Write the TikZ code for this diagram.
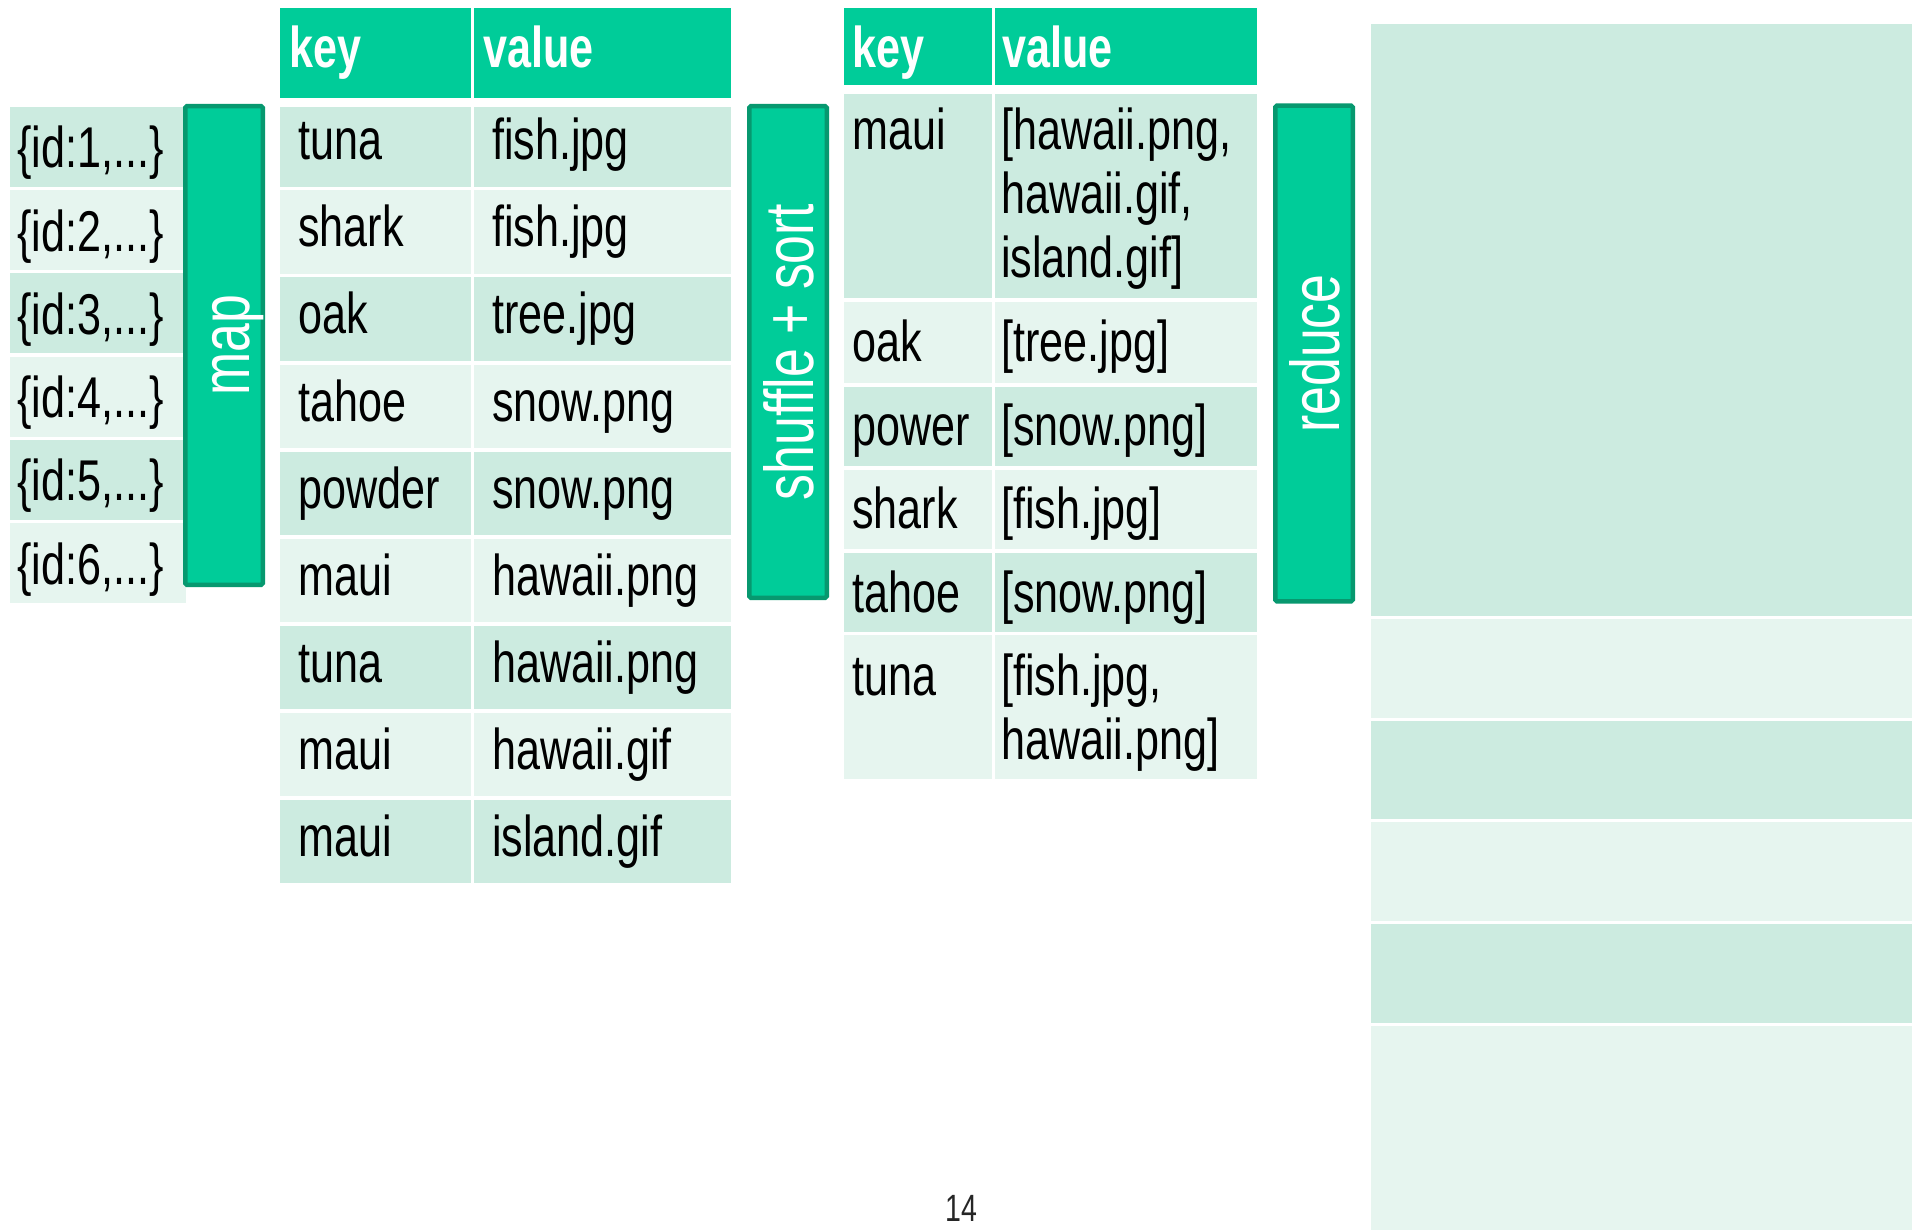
\documentclass[tikz,border=0pt]{standalone}
\usepackage{fontspec}
\setmainfont{Liberation Sans}[FakeStretch=0.75]
\definecolor{accent}{HTML}{00CC99}
\definecolor{stageedge}{HTML}{07986F}
\definecolor{rowdark}{HTML}{CCEBE0}
\definecolor{rowlight}{HTML}{E6F5EF}
\tikzset{
  celltext/.style={anchor=base west, inner sep=0pt, text=black,
    font=\fontsize{57.5}{64}\selectfont},
  headtext/.style={anchor=base west, inner sep=0pt, text=white,
    font=\bfseries\fontsize{57.5}{64}\selectfont},
  stagebox/.style={draw=stageedge, fill=accent, line width=4.5pt,
    rounded corners=1.5pt, inner sep=0pt, minimum width=77.5pt},
  stagelabel/.style={anchor=base, rotate=90, inner sep=0pt, text=white,
    font=\fontsize{69}{72}\selectfont},
  pagenum/.style={anchor=base, inner sep=0pt, text=black!85,
    font=\fontsize{38}{40}\selectfont}
}
\begin{document}
\begin{tikzpicture}[x=1pt,y=-1pt]
\fill[white] (0,0) rectangle (1916,1230);
\useasboundingbox (0,0) rectangle (1916,1230);

% input records
\foreach \k in {1,...,6}{
  \ifodd\k \def\shade{rowdark}\else\def\shade{rowlight}\fi
  \pgfmathsetmacro\top{107+83.2*(\k-1)}
  \fill[\shade] (10,\top) rectangle (186,\top+80);
  \node[celltext] (rec\k) at (17,\top+61) {\{id:\k,...\}};
}

% map stage
\node[stagebox, minimum height=478.5pt] (map) at (224,345.5) {};
\node[stagelabel] (maplabel) at ([xshift=25pt]map.center) {map};

% intermediate key/value pairs
\fill[accent] (280,8) rectangle (471,98);
\fill[accent] (474,8) rectangle (731,98);
\node[headtext] (keyA) at (289,68) {key};
\node[headtext] (valA) at (483,68) {value};
\foreach \k/\key/\val in {1/tuna/fish.jpg, 2/shark/fish.jpg, 3/oak/tree.jpg,
    4/tahoe/snow.png, 5/powder/snow.png, 6/maui/hawaii.png,
    7/tuna/hawaii.png, 8/maui/hawaii.gif, 9/maui/island.gif}{
  \ifodd\k \def\shade{rowdark}\else\def\shade{rowlight}\fi
  \pgfmathsetmacro\top{103.5+87*(\k-1)+3.5*(\k==1)}
  \pgfmathsetmacro\bot{187+87*(\k-1)}
  \fill[\shade] (280,\top) rectangle (471,\bot);
  \fill[\shade] (474,\top) rectangle (731,\bot);
  \node[celltext] (pairkey\k) at (298,\bot-27) {\key};
  \node[celltext] (pairval\k) at (492,\bot-27) {\val};
}

% shuffle + sort stage
\node[stagebox, minimum height=491.5pt] (shuffle) at (788,352) {};
\node[stagelabel] (shufflelabel) at ([xshift=25pt]shuffle.center) {shuffle + sort};

% grouped key/value lists
\fill[accent] (844,8) rectangle (992,85);
\fill[accent] (995,8) rectangle (1257,85);
\node[headtext] (keyB) at (852,68) {key};
\node[headtext] (valB) at (1002,68) {value};
\foreach \k/\top/\bot/\base/\shade/\key/\val in {
    1/94/298.5/150/rowdark/maui/{\vtop{\hbox{[hawaii.png,}\hbox{hawaii.gif,}\hbox{island.gif]}}},
    2/302.5/383/361/rowlight/oak/{[tree.jpg]},
    3/386.5/466/445/rowdark/power/{[snow.png]},
    4/469.5/549/528/rowlight/shark/{[fish.jpg]},
    5/552.5/632/612/rowdark/tahoe/{[snow.png]},
    6/635/779/695/rowlight/tuna/{\vtop{\hbox{[fish.jpg,}\hbox{hawaii.png]}}}}{
  \fill[\shade] (844,\top) rectangle (992,\bot);
  \fill[\shade] (995,\top) rectangle (1257,\bot);
  \node[celltext] (groupkey\k) at (852,\base) {\key};
  \node[celltext] (groupval\k) at (1001,\base) {\val};
}

% reduce stage
\node[stagebox, minimum height=495.5pt] (reduce) at (1314,353.5) {};
\node[stagelabel] (reducelabel) at ([xshift=25pt]reduce.center) {reduce};

% output rows
\foreach \top/\bot/\shade in {24/616/rowdark, 619/718/rowlight, 721/819/rowdark,
    822/921/rowlight, 924/1023/rowdark, 1026/1230/rowlight}{
  \fill[\shade] (1371,\top) rectangle (1912,\bot);
}

% slide number
\node[pagenum] (slideno) at (961,1221) {14};
\end{tikzpicture}
\end{document}
